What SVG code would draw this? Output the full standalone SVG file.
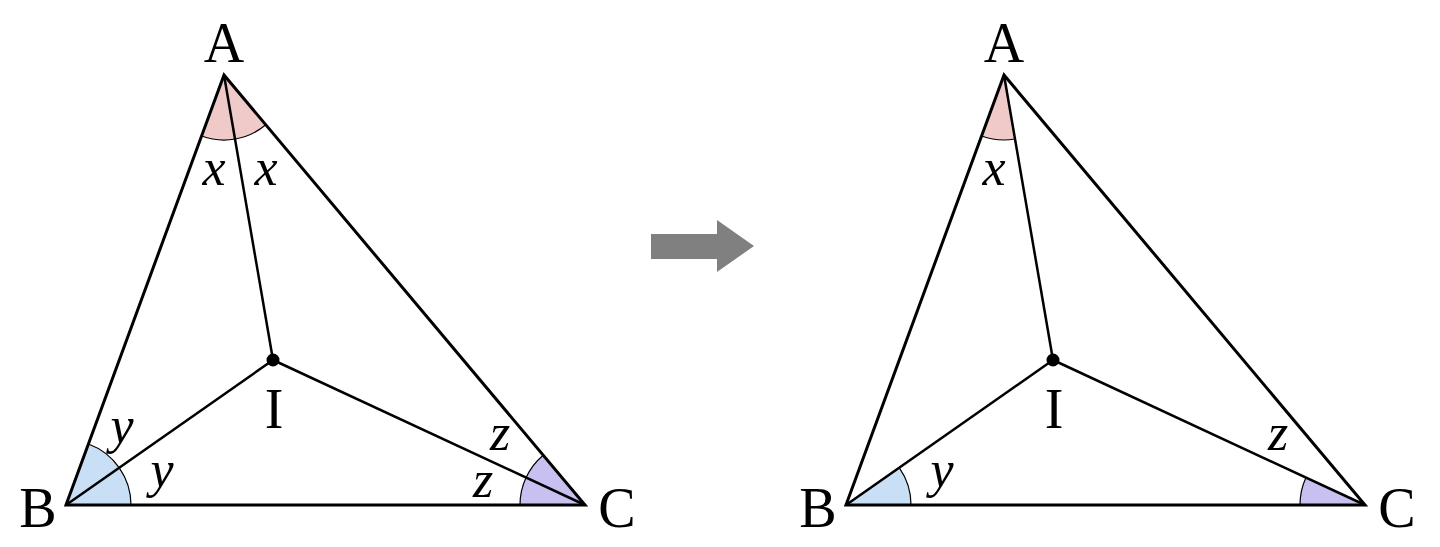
<svg xmlns="http://www.w3.org/2000/svg" width="1440" height="547" viewBox="0 0 1440 547">
<style>
.tri{fill:none;stroke:#000;stroke-width:3;stroke-linejoin:miter}
.seg{stroke:#000;stroke-width:2.5}
.arc{stroke:#000;stroke-width:1.2}
.pa{fill:#f0c9c9}.pb{fill:#c9dff5}.pc{fill:#c8c0f0}
.lab{font-family:"Liberation Serif",serif;font-size:56px;text-anchor:middle}
.var{font-family:"Liberation Serif",serif;font-style:italic;font-size:52px;text-anchor:middle}
</style>
<rect width="1440" height="547" fill="#fff"/>
<g id="angles-left">
<path class="pa arc" d="M224,75 L201.6,136 A65,65 0 0 0 265.8,124.8 Z"/>
<path class="pb arc" d="M66,505 L88.4,444 A65,65 0 0 1 131,505 Z"/>
<path class="pc arc" d="M585,505 L543.2,455.2 A65,65 0 0 0 520,505 Z"/>
</g>
<g id="angles-right">
<path class="pa arc" d="M1004,75 L981.6,136 A65,65 0 0 0 1015,139 Z"/>
<path class="pb arc" d="M846,505 L899.2,467.7 A65,65 0 0 1 911,505 Z"/>
<path class="pc arc" d="M1365,505 L1306,477.6 A65,65 0 0 0 1300,505 Z"/>
</g>
<g id="connectors">
<polygon class="tri" points="224,75 66,505 585,505"/>
<line class="seg" x1="224" y1="75" x2="273" y2="360"/>
<line class="seg" x1="66" y1="505" x2="273" y2="360"/>
<line class="seg" x1="585" y1="505" x2="273" y2="360"/>
<polygon class="tri" points="1004,75 846,505 1365,505"/>
<line class="seg" x1="1004" y1="75" x2="1053" y2="360"/>
<line class="seg" x1="846" y1="505" x2="1053" y2="360"/>
<line class="seg" x1="1365" y1="505" x2="1053" y2="360"/>
</g>
<g id="points">
<circle cx="273" cy="360" r="6.5"/>
<circle cx="1053" cy="360" r="6.5"/>
</g>
<g id="labels-left">
<text class="lab" x="224" y="62">A</text>
<text class="lab" x="38" y="527">B</text>
<text class="lab" x="617" y="527">C</text>
<text class="lab" x="274" y="428">I</text>
<text class="var" x="214" y="185">x</text>
<text class="var" x="266" y="185">x</text>
<text class="var" x="122" y="443">y</text>
<text class="var" x="162" y="487">y</text>
<text class="var" x="500" y="450">z</text>
<text class="var" x="483" y="497">z</text>
</g>
<g id="labels-right">
<text class="lab" x="1004" y="62">A</text>
<text class="lab" x="818" y="527">B</text>
<text class="lab" x="1397" y="527">C</text>
<text class="lab" x="1054" y="428">I</text>
<text class="var" x="994" y="185">x</text>
<text class="var" x="942" y="487">y</text>
<text class="var" x="1278" y="450">z</text>
</g>
<g id="arrow">
<polygon fill="#808080" points="651,234 717,234 717,220 754,246 717,272 717,259 651,259"/>
</g>
</svg>
